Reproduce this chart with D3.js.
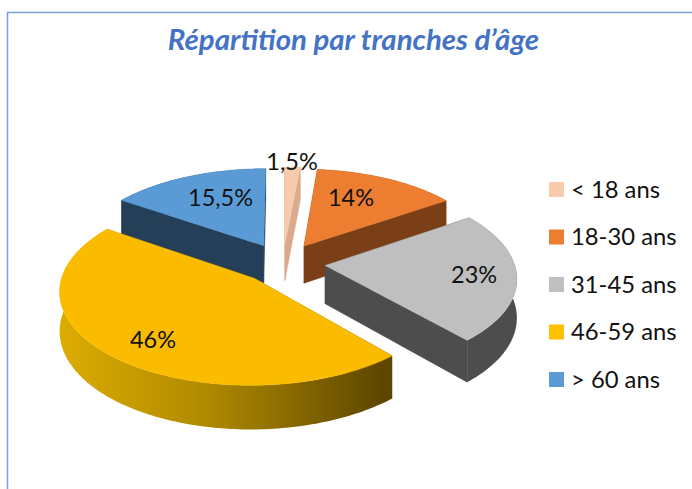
<!DOCTYPE html>
<html><head><meta charset="utf-8">
<script src="https://cdn.jsdelivr.net/npm/d3@7"></script>
<style>html,body{margin:0;padding:0;background:#fff}svg{display:block}text{font-family:Lato,"Open Sans",sans-serif}</style>
</head><body><svg id="c" width="692" height="489"></svg>
<script>
const categories=["< 18 ans","18-30 ans","31-45 ans","46-59 ans","> 60 ans"];
const values=[1.5,14,23,46,15.5];
const valueLabels=["1,5%","14%","23%","46%","15,5%"];
const topColors=["#f7cbac","#ed7d31","#bfbfbf","#fbbc00","#5b9bd5"];
const sideColors=["#d9ab8c","#7b3f18","#4d4d4d",null,"#243f57"];
const legendColors=["#f7cbac","#ed7d31","#bfbfbf","#ffc000","#5b9bd5"];
const labelFractionsX=[0.95,0.55,0.78,0.72,0.55];
const labelFractionsY=[1.08,0.7,0.78,0.8,0.68];
const drawOrder=[4,0,1,2,3];

const W=692,H=489,cx=283,cy=263,Rx=189,Ry=90,K=0.12,EXPLODE=0.224,DEPTH=38;
const svg=d3.select("#c");
const defs=svg.append("defs");
const g=defs.append("linearGradient").attr("id","ySide").attr("gradientUnits","userSpaceOnUse")
  .attr("x1",60).attr("x2",385).attr("y1",0).attr("y2",0);
[[0,"#dcac00"],[0.45,"#b08a00"],[1,"#5c4600"]].forEach(s=>g.append("stop").attr("offset",s[0]).attr("stop-color",s[1]));

svg.append("path").attr("d",`M7.5 ${H}V12.5H${W}`).attr("fill","none").attr("stroke","#7e9edb").attr("stroke-width",1.5);

svg.append("text").attr("x",353.5).attr("y",50).attr("text-anchor","middle")
  .attr("font-size",29.4).attr("font-weight",700).attr("font-style","italic").attr("fill","#4472c4")
  .text("Répartition par tranches d’âge");

const proj=(X,Y,z=0)=>{const w=1-K*Y;return [cx+Rx*X/w,cy+Ry*Y/w+z*DEPTH/w];};
const arcs=d3.pie().sort(null)(values);
const line=d3.line();

drawOrder.forEach(i=>{
  const a=arcs[i],mid=(a.startAngle+a.endAngle)/2;
  const ox=Math.sin(mid)*EXPLODE,oy=-Math.cos(mid)*EXPLODE;
  const pt=t=>[ox+Math.sin(t),oy-Math.cos(t)];
  const steps=Math.max(3,Math.ceil((a.endAngle-a.startAngle)/0.02));
  const ts=d3.range(steps+1).map(k=>a.startAngle+(a.endAngle-a.startAngle)*k/steps);
  const rim=ts.map(pt);
  const sel=svg.append("g");
  const fillSide=sideColors[i]||"url(#ySide)";
  const quad=(p,q)=>{
    const A=proj(p[0],p[1]),B=proj(q[0],q[1]),C=proj(q[0],q[1],1),D=proj(p[0],p[1],1);
    sel.append("path").attr("d",line([A,B,C,D])+"Z").attr("fill",fillSide).attr("stroke",fillSide).attr("stroke-width",0.5);
  };
  quad([ox,oy],rim[0]);
  quad(rim[rim.length-1],[ox,oy]);
  const wallTop=rim.map(p=>proj(p[0],p[1]));
  const wallBot=rim.map(p=>proj(p[0],p[1],1)).reverse();
  sel.append("path").attr("d",line(wallTop.concat(wallBot))+"Z").attr("fill",fillSide);
  const topPts=[proj(ox,oy)].concat(wallTop);
  sel.append("path").attr("d",line(topPts)+"Z").attr("fill",topColors[i]).attr("stroke",topColors[i]).attr("stroke-width",0.5);
  a.labelAt=proj(ox+Math.sin(mid)*labelFractionsX[i],oy-Math.cos(mid)*labelFractionsY[i]);
});

arcs.forEach((a,i)=>{
  svg.append("text").attr("x",a.labelAt[0]).attr("y",a.labelAt[1]+8.5).attr("text-anchor","middle")
    .attr("font-size",23.5).attr("fill","#111").text(valueLabels[i]);
});

const ly=d3.scalePoint().domain(categories).range([189.5,379.5]);
categories.forEach((c,i)=>{
  svg.append("rect").attr("x",549).attr("y",ly(c)-7.5).attr("width",15).attr("height",15).attr("fill",legendColors[i]);
  svg.append("text").attr("x",571).attr("y",ly(c)+8).attr("font-size",23.8).attr("fill","#111").text(c);
});
</script></body></html>
